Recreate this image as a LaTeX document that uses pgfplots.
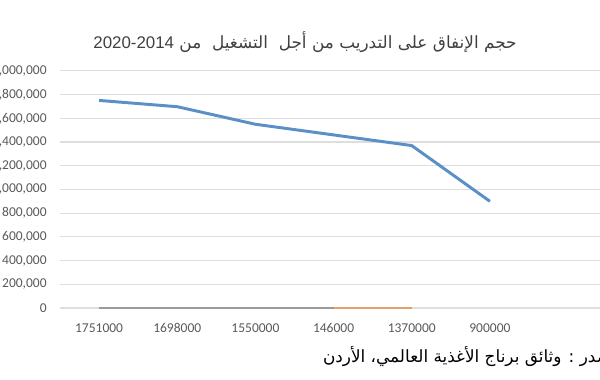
\documentclass[border=0pt]{standalone}
\usepackage{fontspec}
\usepackage{pgfplots}
\pgfplotsset{compat=1.18}
\setmainfont{Carlito}
\newfontfamily\arabicfont[Script=Arabic]{DejaVu Sans}
\newfontfamily\arialfont{Liberation Sans}
\TeXXeTstate=1
\definecolor{blueline}{HTML}{5B8FC8}
\definecolor{grayline}{HTML}{9A9A9A}
\definecolor{orangeline}{HTML}{E3A267}
\definecolor{gridgray}{HTML}{DEDEDE}
\definecolor{ticktext}{HTML}{595959}
\definecolor{titletext}{HTML}{404040}
\begin{document}
\begin{tikzpicture}[x=0.025cm,y=0.025cm]
\begin{pgfinterruptboundingbox}
\begin{axis}[
  at={(1.5cm,1.8cm)}, anchor=south west,
  scale only axis, width=13.675cm, height=5.925cm,
  xmin=-0.5, xmax=6.5, ymin=0, ymax=2000000,
  xtick={0,1,2,3,4,5},
  xticklabels={1751000,1698000,1550000,146000,1370000,900000},
  ytick={0,200000,400000,600000,800000,1000000,1200000,1400000,1600000,1800000,2000000},
  scaled y ticks=false,
  /pgf/number format/fixed,
  /pgf/number format/precision=0,
  /pgf/number format/1000 sep={,},
  /pgf/number format/assume math mode=true,
  ymajorgrids,
  major grid style={draw=gridgray, line width=0.8pt},
  axis line style={draw=none},
  major tick length=0pt,
  tick label style={font=\fontsize{9.6}{11}\selectfont, text=ticktext},
  yticklabel style={xshift=-6pt},
  xticklabel style={yshift=-6.5pt, text height=1.6ex, text depth=0.2ex},
  clip=false,
]
\addplot[grayline, line width=1.5pt] coordinates {(0,0) (1,0) (2,0) (3,0)};
\addplot[orangeline, line width=1.5pt] coordinates {(3,0) (4,0)};
\addplot[blueline, line width=2.1pt] coordinates {(0,1751000) (1,1698000) (2,1550000) (3,1460000) (4,1370000) (5,900000)};
\end{axis}
\node[text=titletext, font=\fontsize{12}{14}\selectfont] at (305,338)
  {\arabicfont\beginR حجم الإنفاق على التدريب من أجل\ \ التشغيل\ \ من {\arialfont\beginL 2020-2014\endL}\endR};
\node[anchor=east, text=black, font=\fontsize{12}{14}\selectfont] at (636,23)
  {\arabicfont\beginR المصدر : وثائق برناج الأغذية العالمي، الأردن\endR};
\end{pgfinterruptboundingbox}
\path[use as bounding box] (0,0) rectangle (600,380);
\end{tikzpicture}
\end{document}
